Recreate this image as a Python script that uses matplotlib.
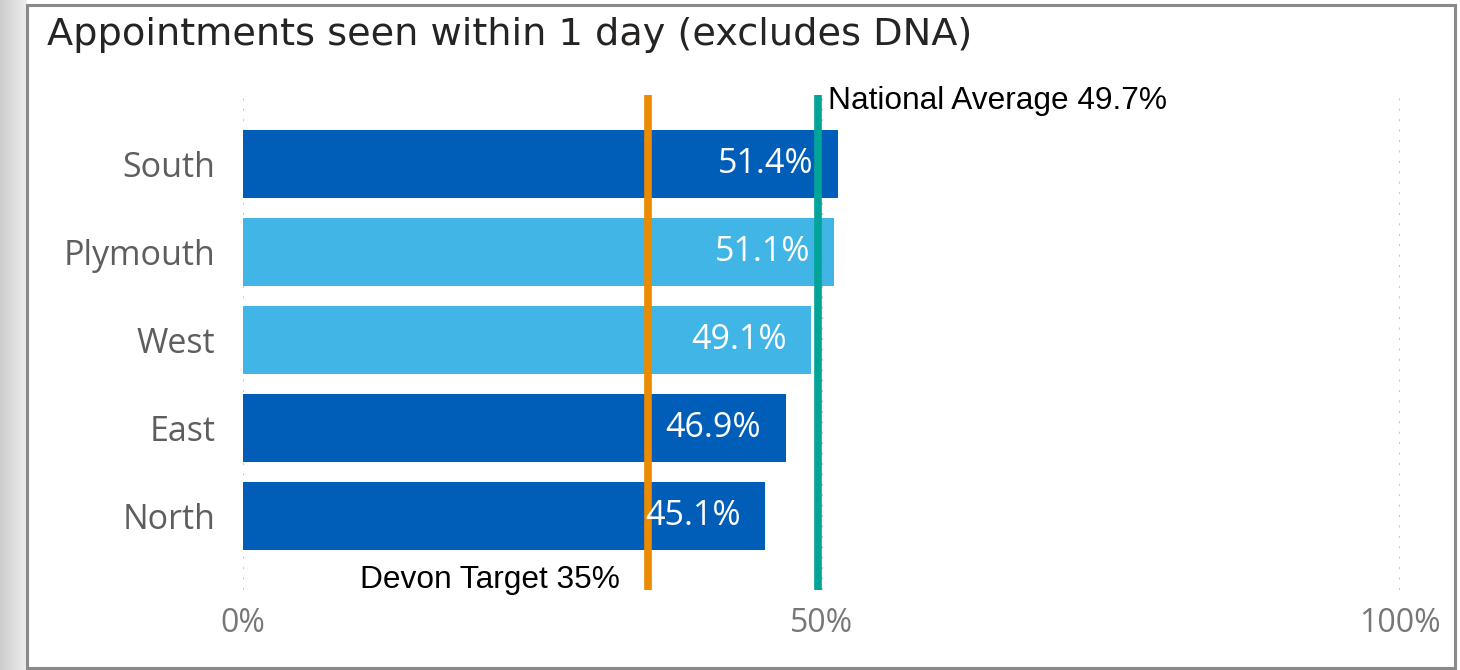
import matplotlib
matplotlib.use("Agg")
import matplotlib.pyplot as plt
import numpy as np
from matplotlib.patches import Rectangle

categories = ["South", "Plymouth", "West", "East", "North"]
values = [51.4, 51.1, 49.1, 46.9, 45.1]
highlight = [False, True, True, False, False]
national_avg = 49.7
devon_target = 35
x_ticks = [0, 50, 100]
x_tick_labels = ["0%", "50%", "100%"]
title = "Appointments seen within 1 day (excludes DNA)"

DARK = "#005EB8"
LIGHT = "#41B6E6"
ORANGE = "#ED8B00"
TEAL = "#00A499"

W, H = 1460, 670
fig = plt.figure(figsize=(W / 100, H / 100), dpi=100)
fig.patch.set_facecolor("white")

# left grey strip with gradient
bg = fig.add_axes([0, 0, 27 / W, 1])
grad = np.linspace(0.80, 0.93, 50).reshape(1, -1)
bg.imshow(grad, aspect="auto", cmap="gray", vmin=0, vmax=1, extent=[0, 1, 0, 1])
bg.axis("off")

# border
fig.patches.append(Rectangle((27 / W, 2 / H), (1455 - 27) / W, (665 - 2) / H,
                             transform=fig.transFigure, fill=False,
                             edgecolor="#8a8a8a", linewidth=2.2, zorder=0))

ax_l, ax_r = 243, 1400
ax_t, ax_b = 95, 590
ax = fig.add_axes([ax_l / W, 1 - ax_b / H, (ax_r - ax_l) / W, (ax_b - ax_t) / H])

y = np.arange(len(categories))
colors = [LIGHT if h else DARK for h in highlight]
ax.barh(y, values, height=68 / 88, color=colors, zorder=2)

ax.set_xlim(0, 100)
top_i = (ax_t - 164) / 88
bot_i = (ax_b - 164) / 88
ax.set_ylim(bot_i, top_i)

ax.set_yticks(y)
ax.set_yticklabels(categories, fontsize=24.5, color="#605E5C", family="Open Sans")
ax.set_xticks(x_ticks)
ax.set_xticklabels(x_tick_labels, fontsize=23, color="#777777", family="Open Sans")
ax.tick_params(axis="both", length=0)
ax.tick_params(axis="y", pad=20)
ax.tick_params(axis="x", pad=12)
for s in ax.spines.values():
    s.set_visible(False)
ax.set_facecolor("none")
ax.grid(axis="x", linestyle=(0, (1, 4)), color="#c8c8c8", linewidth=1.5, zorder=1)
ax.grid(axis="y", visible=False)

for yi, v in zip(y, values):
    ax.annotate(f"{v}%", xy=(v, yi), xytext=(-17.5, 0), textcoords="offset points",
                ha="right", va="center", color="white", fontsize=24.5,
                family="Open Sans", zorder=4)

ax.axvline(devon_target, ymin=0.004, ymax=1, color=ORANGE, linewidth=5.5, zorder=3)
ax.axvline(national_avg, ymin=0.004, ymax=1, color=TEAL, linewidth=5.5, zorder=3)

ax.annotate(f"National Average {national_avg}%", xy=(national_avg, 1.0),
            xycoords=("data", "axes fraction"), xytext=(7, -4),
            textcoords="offset points", ha="left", va="center",
            fontsize=22.8, family="Liberation Sans", color="black")
ax.annotate(f"Devon Target {devon_target}%", xy=(devon_target, 0.0),
            xycoords=("data", "axes fraction"), xytext=(-20, 7),
            textcoords="offset points", ha="right", va="center",
            fontsize=22.8, family="Liberation Sans", color="black")

fig.text(47 / W, 1 - 35 / H, title, ha="left", va="center", fontsize=27.5,
         color="#252423", family="DejaVu Sans")

fig.savefig("out.png", dpi=100)
